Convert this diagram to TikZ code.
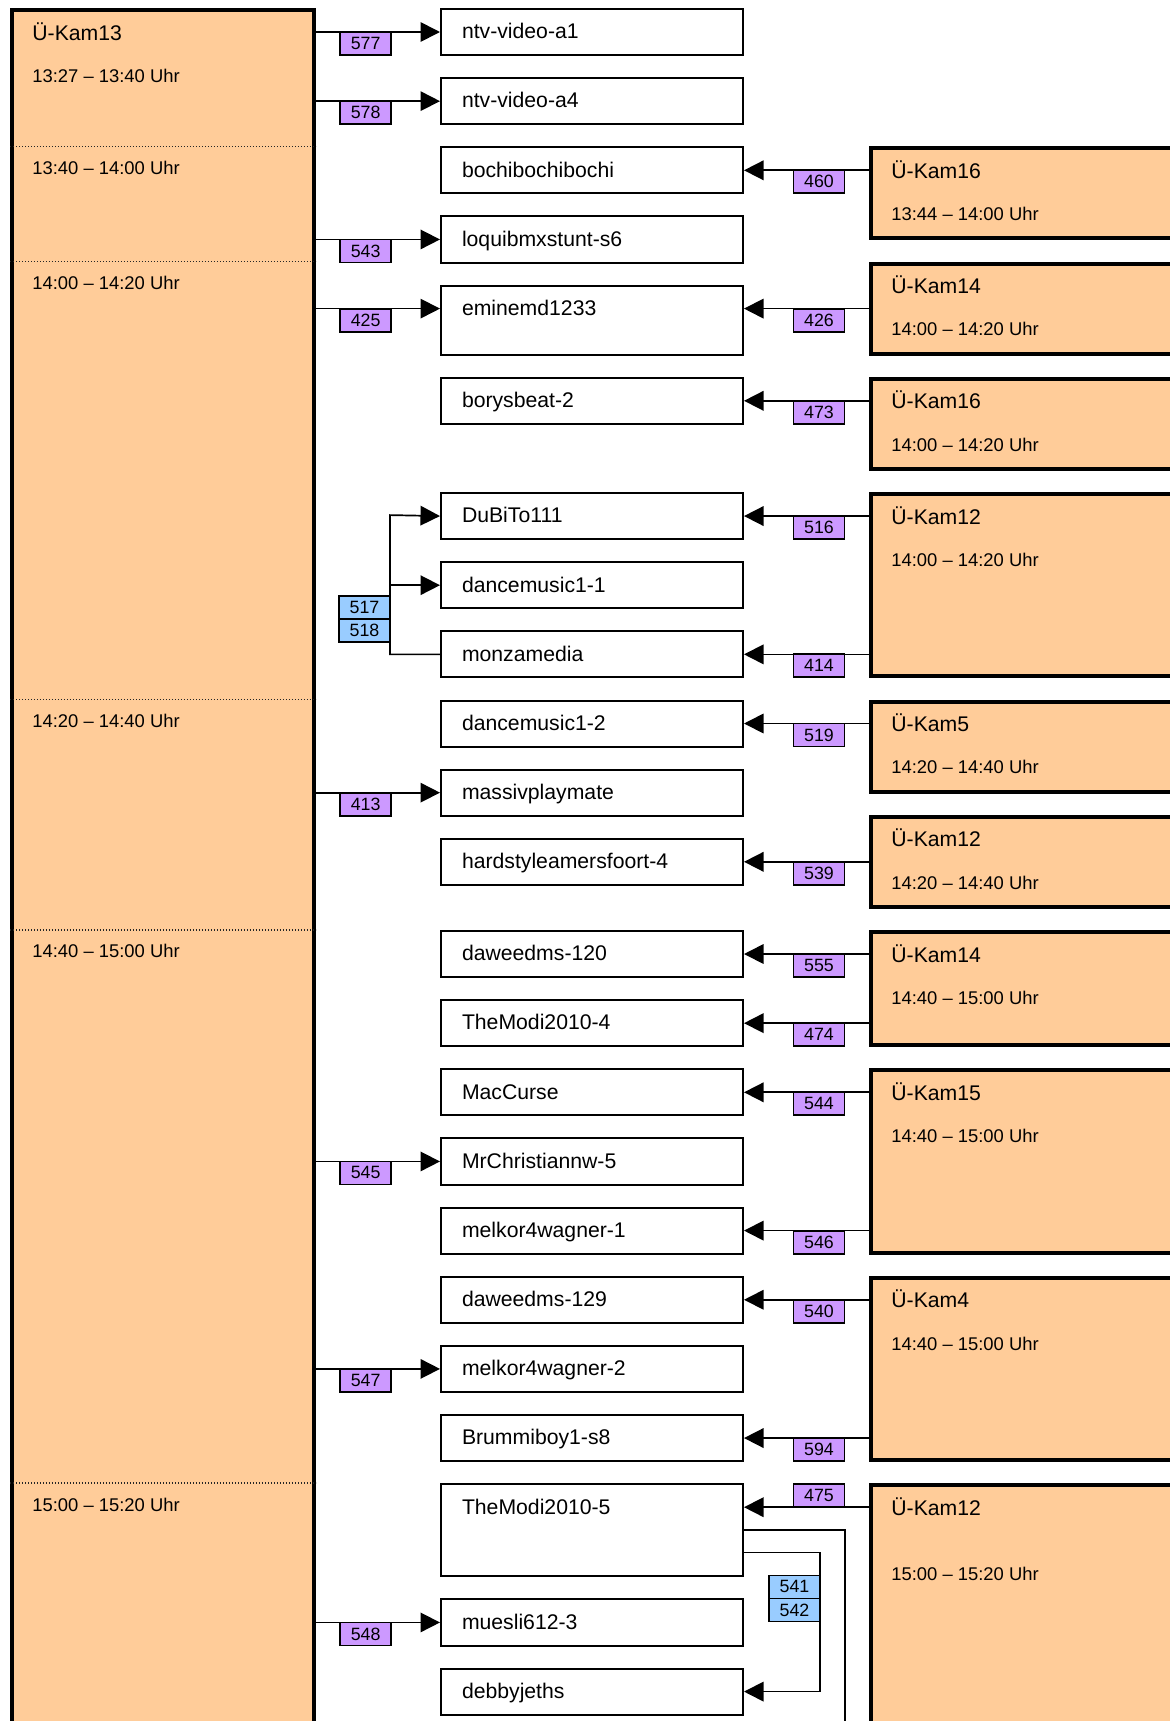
\documentclass[tikz,border=0pt]{standalone}
\usepackage{fontspec}
\setmainfont{Liberation Sans}
\usetikzlibrary{arrows.meta}

\definecolor{camorange}{HTML}{FFCC99}
\definecolor{tagviolet}{HTML}{CC99FF}
\definecolor{tagblue}{HTML}{99CCFF}

\tikzset{
    cambox/.style={draw, line width=2pt, fill=camorange, anchor=north west, inner sep=0pt, minimum width=200pt},
    camname/.style={anchor=mid west, inner sep=0pt, font=\fontsize{10.6pt}{12pt}\selectfont},
    camtime/.style={anchor=mid west, inner sep=0pt, font=\fontsize{9.2pt}{11pt}\selectfont},
    streambox/.style={draw, line width=1pt, fill=white, anchor=north west, inner xsep=10.5pt, inner ysep=0pt,
        text width=130pt, align=left, text height=14.9pt, text depth=8.15pt, font=\fontsize{10.6pt}{12pt}\selectfont},
    feed/.style={line width=0.85pt, -{Triangle[length=9.75pt,width=9.75pt]}},
    link/.style={line width=0.85pt},
    tag/.style={draw, line width=0.9pt, fill=tagviolet, anchor=north, inner sep=0pt, outer sep=0pt,
        minimum width=25.5pt, minimum height=11.5pt, font=\fontsize{8.9pt}{10pt}\selectfont},
    multitag/.style={tag, fill=tagblue},
    slotline/.style={line width=0.8pt, dash pattern=on 0.7pt off 0.8pt, black!85}
}

\begin{document}
\begin{tikzpicture}[x=0.5pt, y=-11.525pt]
    \useasboundingbox (0,-0.347) rectangle (1170,74.317);
    \clip (0,-0.347) rectangle (1170,74.317);

    % Left camera
    \node[cambox, minimum width=151pt, minimum height=950pt] (cam13) at (10,0) {};
    \node[camname] (cam13name) at (32,1.18) {Ü-Kam13};
    \node[camtime] (cam13time) at (32,3.0) {13:27 -- 13:40 Uhr};

    % Time slots of the left camera
    \draw[slotline] (cam13.west |- 0,6) -- (cam13.east |- 0,6);
    \node[camtime] (slot1340) at (32,6.98) {13:40 -- 14:00 Uhr};
    \draw[slotline] (cam13.west |- 0,11) -- (cam13.east |- 0,11);
    \node[camtime] (slot1400) at (32,11.98) {14:00 -- 14:20 Uhr};
    \draw[slotline] (cam13.west |- 0,30) -- (cam13.east |- 0,30);
    \node[camtime] (slot1420) at (32,30.98) {14:20 -- 14:40 Uhr};
    \draw[slotline] (cam13.west |- 0,40) -- (cam13.east |- 0,40);
    \node[camtime] (slot1440) at (32,40.98) {14:40 -- 15:00 Uhr};
    \draw[slotline] (cam13.west |- 0,64) -- (cam13.east |- 0,64);
    \node[camtime] (slot1500) at (32,64.98) {15:00 -- 15:20 Uhr};

    % Right cameras
    \node[cambox, minimum height=45pt] (kam16a) at (869,6) {};
    \node[camname] (kam16aname) at (891,7.16) {Ü-Kam16};
    \node[camtime] (kam16atime) at (891,9.0) {13:44 -- 14:00 Uhr};

    \node[cambox, minimum height=45pt] (kam14a) at (869,11) {};
    \node[camname] (kam14aname) at (891,12.16) {Ü-Kam14};
    \node[camtime] (kam14atime) at (891,14.0) {14:00 -- 14:20 Uhr};

    \node[cambox, minimum height=45pt] (kam16b) at (869,16) {};
    \node[camname] (kam16bname) at (891,17.16) {Ü-Kam16};
    \node[camtime] (kam16btime) at (891,19.0) {14:00 -- 14:20 Uhr};

    \node[cambox, minimum height=91.2pt] (kam12a) at (869,21) {};
    \node[camname] (kam12aname) at (891,22.16) {Ü-Kam12};
    \node[camtime] (kam12atime) at (891,24.0) {14:00 -- 14:20 Uhr};

    \node[cambox, minimum height=45pt] (kam5) at (869,30) {};
    \node[camname] (kam5name) at (891,31.16) {Ü-Kam5};
    \node[camtime] (kam5time) at (891,33.0) {14:20 -- 14:40 Uhr};

    \node[cambox, minimum height=45pt] (kam12b) at (869,35) {};
    \node[camname] (kam12bname) at (891,36.16) {Ü-Kam12};
    \node[camtime] (kam12btime) at (891,38.0) {14:20 -- 14:40 Uhr};

    \node[cambox, minimum height=56.6pt] (kam14b) at (869,40) {};
    \node[camname] (kam14bname) at (891,41.16) {Ü-Kam14};
    \node[camtime] (kam14btime) at (891,43.0) {14:40 -- 15:00 Uhr};

    \node[cambox, minimum height=91.2pt] (kam15) at (869,46) {};
    \node[camname] (kam15name) at (891,47.16) {Ü-Kam15};
    \node[camtime] (kam15time) at (891,49.0) {14:40 -- 15:00 Uhr};

    \node[cambox, minimum height=91.2pt] (kam4) at (869,55) {};
    \node[camname] (kam4name) at (891,56.16) {Ü-Kam4};
    \node[camtime] (kam4time) at (891,58.0) {14:40 -- 15:00 Uhr};

    \node[cambox, minimum height=172.9pt] (kam12c) at (869,64) {};
    \node[camname] (kam12cname) at (891,65.16) {Ü-Kam12};
    \node[camtime] (kam12ctime) at (891,68.0) {15:00 -- 15:20 Uhr};

    % Stream nodes
    \node[streambox] (a1) at (440,0) {ntv-video-a1};
    \node[streambox] (a4) at (440,3) {ntv-video-a4};
    \node[streambox] (bochi) at (440,6) {bochibochibochi};
    \node[streambox] (loqui) at (440,9) {loquibmxstunt-s6};
    \node[streambox, text depth=19.7pt] (eminem) at (440,12) {eminemd1233};
    \node[streambox] (borys) at (440,16) {borysbeat-2};
    \node[streambox] (dubito) at (440,21) {DuBiTo111};
    \node[streambox] (dance1) at (440,24) {dancemusic1-1};
    \node[streambox] (monza) at (440,27) {monzamedia};
    \node[streambox] (dance2) at (440,30) {dancemusic1-2};
    \node[streambox] (massiv) at (440,33) {massivplaymate};
    \node[streambox] (hardstyle) at (440,36) {hardstyleamersfoort-4};
    \node[streambox] (daweed120) at (440,40) {daweedms-120};
    \node[streambox] (modi4) at (440,43) {TheModi2010-4};
    \node[streambox] (maccurse) at (440,46) {MacCurse};
    \node[streambox] (mrchris) at (440,49) {MrChristiannw-5};
    \node[streambox] (melkor1) at (440,52) {melkor4wagner-1};
    \node[streambox] (daweed129) at (440,55) {daweedms-129};
    \node[streambox] (melkor2) at (440,58) {melkor4wagner-2};
    \node[streambox] (brummi) at (440,61) {Brummiboy1-s8};
    \node[streambox, text depth=31.2pt] (modi5) at (440,64) {TheModi2010-5};
    \node[streambox] (muesli) at (440,69) {muesli612-3};
    \node[streambox] (debby) at (440,72) {debbyjeths};

    % Feeds from the left camera
    \draw[feed] ([yshift=3.4pt]cam13.east |- a1.base west) -- node[tag, pos=0.4] (tag577) {577} ([yshift=3.4pt]a1.base west);
    \draw[feed] ([yshift=3.4pt]cam13.east |- a4.base west) -- node[tag, pos=0.4] (tag578) {578} ([yshift=3.4pt]a4.base west);
    \draw[feed] ([yshift=3.4pt]cam13.east |- loqui.base west) -- node[tag, pos=0.4] (tag543) {543} ([yshift=3.4pt]loqui.base west);
    \draw[feed] ([yshift=3.4pt]cam13.east |- eminem.base west) -- node[tag, pos=0.4] (tag425) {425} ([yshift=3.4pt]eminem.base west);
    \draw[feed] ([yshift=3.4pt]cam13.east |- massiv.base west) -- node[tag, pos=0.4] (tag413) {413} ([yshift=3.4pt]massiv.base west);
    \draw[feed] ([yshift=3.4pt]cam13.east |- mrchris.base west) -- node[tag, pos=0.4] (tag545) {545} ([yshift=3.4pt]mrchris.base west);
    \draw[feed] ([yshift=3.4pt]cam13.east |- melkor2.base west) -- node[tag, pos=0.4] (tag547) {547} ([yshift=3.4pt]melkor2.base west);
    \draw[feed] ([yshift=3.4pt]cam13.east |- muesli.base west) -- node[tag, pos=0.4] (tag548) {548} ([yshift=3.4pt]muesli.base west);

    % Feeds from the right cameras
    \draw[feed] ([yshift=3.4pt]kam16a.west |- bochi.base east) -- node[tag, pos=0.4] (tag460) {460} ([yshift=3.4pt]bochi.base east);
    \draw[feed] ([yshift=3.4pt]kam14a.west |- eminem.base east) -- node[tag, pos=0.4] (tag426) {426} ([yshift=3.4pt]eminem.base east);
    \draw[feed] ([yshift=3.4pt]kam16b.west |- borys.base east) -- node[tag, pos=0.4] (tag473) {473} ([yshift=3.4pt]borys.base east);
    \draw[feed] ([yshift=3.4pt]kam12a.west |- dubito.base east) -- node[tag, pos=0.4] (tag516) {516} ([yshift=3.4pt]dubito.base east);
    \draw[feed] ([yshift=3.4pt]kam12a.west |- monza.base east) -- node[tag, pos=0.4] (tag414) {414} ([yshift=3.4pt]monza.base east);
    \draw[feed] ([yshift=3.4pt]kam5.west |- dance2.base east) -- node[tag, pos=0.4] (tag519) {519} ([yshift=3.4pt]dance2.base east);
    \draw[feed] ([yshift=3.4pt]kam12b.west |- hardstyle.base east) -- node[tag, pos=0.4] (tag539) {539} ([yshift=3.4pt]hardstyle.base east);
    \draw[feed] ([yshift=3.4pt]kam14b.west |- daweed120.base east) -- node[tag, pos=0.4] (tag555) {555} ([yshift=3.4pt]daweed120.base east);
    \draw[feed] ([yshift=3.4pt]kam14b.west |- modi4.base east) -- node[tag, pos=0.4] (tag474) {474} ([yshift=3.4pt]modi4.base east);
    \draw[feed] ([yshift=3.4pt]kam15.west |- maccurse.base east) -- node[tag, pos=0.4] (tag544) {544} ([yshift=3.4pt]maccurse.base east);
    \draw[feed] ([yshift=3.4pt]kam15.west |- melkor1.base east) -- node[tag, pos=0.4] (tag546) {546} ([yshift=3.4pt]melkor1.base east);
    \draw[feed] ([yshift=3.4pt]kam4.west |- daweed129.base east) -- node[tag, pos=0.4] (tag540) {540} ([yshift=3.4pt]daweed129.base east);
    \draw[feed] ([yshift=3.4pt]kam4.west |- brummi.base east) -- node[tag, pos=0.4] (tag594) {594} ([yshift=3.4pt]brummi.base east);
    \draw[feed] ([yshift=3.4pt]kam12c.west |- modi5.base east) -- node[tag, pos=0.4, anchor=south] (tag475) {475} ([yshift=3.4pt]modi5.base east);

    % Forwarded streams
    \coordinate (fork1) at (390,22);
    \node[multitag, anchor=south east] (tag518) at (390,27.5) {518};
    \node[multitag, anchor=south east] (tag517) at (390,26.5) {517};
    \draw[feed] ([yshift=3.4pt]monza.base west) -| (fork1) -- ([yshift=3.4pt]dubito.base west);
    \draw[feed] ([yshift=3.4pt]fork1 |- dance1.base west) -- ([yshift=3.4pt]dance1.base west);

    \coordinate (fork2) at (820,67);
    \node[multitag, anchor=north east] (tag541) at (820,68) {541};
    \node[multitag, anchor=north east] (tag542) at (820,69) {542};
    \draw[feed] (modi5.east |- fork2) -- (fork2) |- ([yshift=3.4pt]debby.base east);

    \coordinate (offpage) at (845,80);
    \draw[link] (modi5.east) -| (offpage);
\end{tikzpicture}
\end{document}
